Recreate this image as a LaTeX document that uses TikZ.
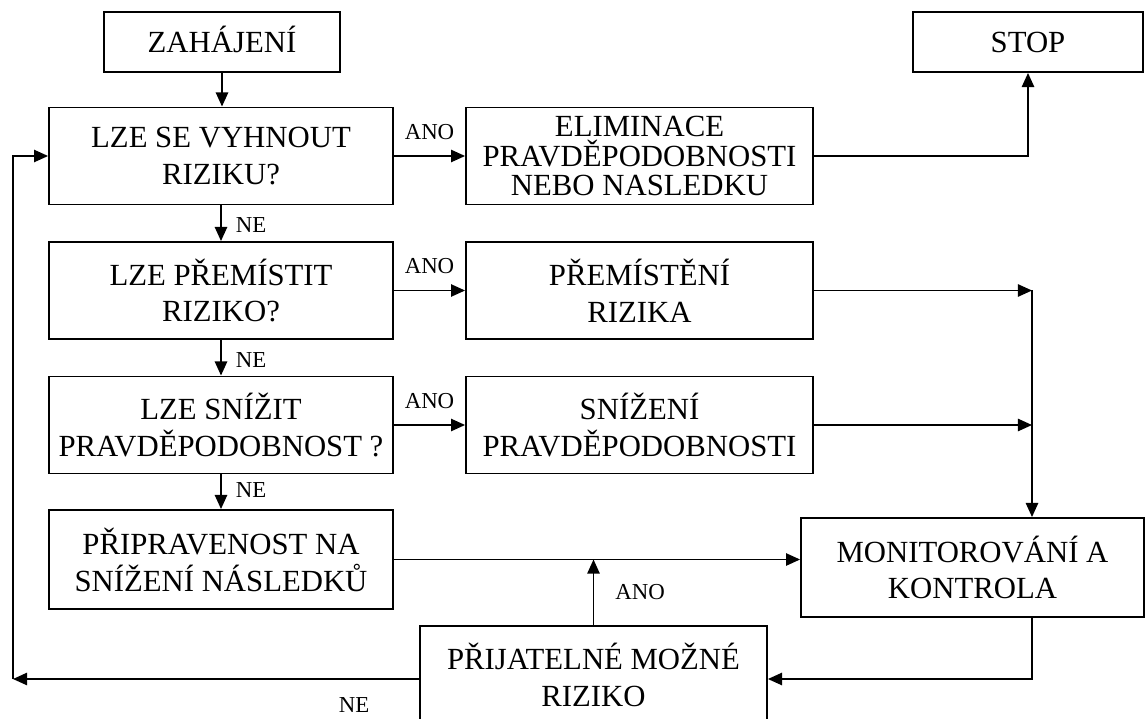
\documentclass[tikz,border=0pt]{standalone}
\usepackage{fontspec}
\setmainfont{Liberation Serif}
\usetikzlibrary{arrows.meta, positioning, calc}

\tikzset{
  box/.style={draw, line width=1.1pt, inner sep=2pt, align=center,
    font=\fontsize{17.5}{21}\selectfont, minimum width=6.88cm, minimum height=1.94cm},
  wide/.style={box, minimum width=6.94cm},
  oneline/.style={box, minimum height=1.2cm, text height=12.2pt, text depth=0pt},
  arr/.style={-{Triangle[length=8pt, width=7pt]}, line width=0.95pt},
  lbl/.style={font=\fontsize{13}{15}\selectfont, inner sep=0pt},
}

\begin{document}
\begin{tikzpicture}[x=0.02cm, y=-0.02cm]
  \useasboundingbox (0,0) rectangle (1145,719);
  \clip (0,0) rectangle (1145,719);

  % start and end
  \node[oneline, minimum width=4.72cm] (zah) at (222,42) {ZAHÁJENÍ};
  \node[oneline, minimum width=4.6cm] (stop) at (1028,42) {STOP};

  % questions
  \node[box] (q1) at (221,156) {LZE SE VYHNOUT\\RIZIKU?};
  \node[box] (q2) at (221,290.5) {LZE PŘEMÍSTIT\\RIZIKO?};
  \node[box] (q3) at (221,425) {LZE SNÍŽIT\\PRAVDĚPODOBNOST ?};
  \node[box, minimum height=1.98cm] (prip) at (221,559.5) {PŘIPRAVENOST NA\\SNÍŽENÍ NÁSLEDKŮ};

  % measures
  \node[wide, font=\fontsize{17.5}{17}\selectfont] (elim) at (639.5,156) {ELIMINACE\\PRAVDĚPODOBNOSTI\\NEBO NASLEDKU};
  \node[wide] (pres) at (639.5,290.5) {PŘEMÍSTĚNÍ\\RIZIKA};
  \node[wide] (sniz) at (639.5,425) {SNÍŽENÍ\\PRAVDĚPODOBNOSTI};

  \node[box, minimum width=6.86cm, minimum height=1.98cm] (mon) at (972.5,567.5) {MONITOROVÁNÍ A\\KONTROLA};
  \node[wide, minimum height=1.96cm] (prij) at (593.5,675) {PŘIJATELNÉ MOŽNÉ\\RIZIKO};

  \coordinate (join) at (1032,290.5);
  \coordinate (back) at (13,679);

  % flow down the left column
  \draw[arr] (zah.south) -- (zah.south |- q1.north);
  \draw[arr] (q1.south) -- (q2.north) node[lbl, pos=0.55, right=8pt] {NE};
  \draw[arr] (q2.south) -- (q3.north) node[lbl, pos=0.55, right=8pt] {NE};
  \draw[arr] (q3.south) -- (prip.north) node[lbl, pos=0.45, right=8pt] {NE};

  % yes branches
  \draw[arr] (q1.east) -- (elim.west) node[lbl, midway, above=9pt] {ANO};
  \draw[arr] (q2.east) -- (pres.west) node[lbl, midway, above=9pt] {ANO};
  \draw[arr] (q3.east) -- (sniz.west) node[lbl, midway, above=9pt] {ANO};

  \draw[arr] (elim.east) -| (stop.south);
  \draw[arr] (pres.east) -- (join);
  \draw[arr] (sniz.east) -- (sniz.east -| join);
  \draw[arr] (join) -- (join |- mon.north);

  \draw[arr] (prip.east) -- (prip.east -| mon.west);
  \draw[arr] (prij.north) -- (prij.north |- prip.east) node[lbl, pos=0.5, right=12pt] {ANO};
  \draw[arr] (mon.south -| join) |- (prij.east |- back);

  % back to the first question
  \draw[arr] (prij.west |- back) -- (back) node[lbl, pos=0.16, below=10pt] {NE};
  \draw[arr] (back) |- (q1.west);
\end{tikzpicture}
\end{document}
